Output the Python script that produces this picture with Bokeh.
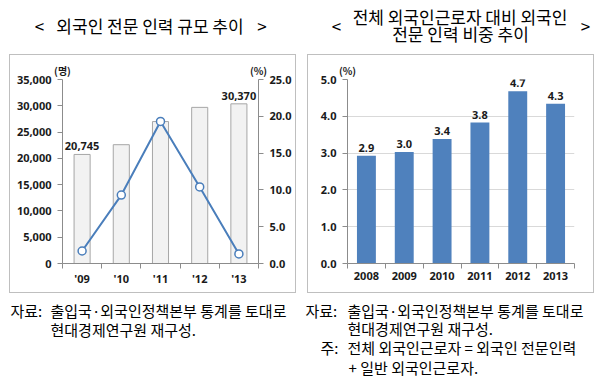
from bokeh.plotting import figure
from bokeh.models import (Range1d, LinearAxis, FixedTicker, SingleIntervalTicker,
                          NumeralTickFormatter, Spacer)
from bokeh.layouts import column, row
from bokeh.embed import file_html
from bokeh.resources import INLINE
from bokeh.core.properties import value

# ---------------- data ----------------
left_years = ["'09", "'10", "'11", "'12", "'13"]
expert_workers = [20745, 22600, 27000, 29700, 30370]      # 명
expert_growth = [1.7, 9.3, 19.3, 10.4, 1.3]               # %
labeled_bars = [0, 4]
left_units = ["(명)", "(%)"]

right_years = ["2008", "2009", "2010", "2011", "2012", "2013"]
expert_share = [2.93, 3.03, 3.38, 3.83, 4.68, 4.34]       # %
right_units = ["(%)"]

left_title = "외국인 전문 인력 규모 추이"
right_title = ["전체 외국인근로자 대비 외국인", "전문 인력 비중 추이"]
left_notes = ["자료:", "출입국·외국인정책본부 통계를 토대로", "현대경제연구원 재구성."]
right_notes = ["자료:", "출입국·외국인정책본부 통계를 토대로", "현대경제연구원 재구성.",
               "주:", "전체 외국인근로자 = 외국인 전문인력", "+ 일반 외국인근로자."]

# ---------------- styles ----------------
FONT_NUM = "Noto Sans"
FONT_KR = "Noto Sans CJK KR"
AXIS_GRAY = "#8c8c8c"
TXT = "#1a1a1a"
BLUE = "#4a7ebb"
BAR_BLUE = "#4f81bd"
BOX = {"outline": "1px solid #bfbfbf"}


def style_axis(ax, tick_out=5):
    ax.axis_line_color = AXIS_GRAY
    ax.major_tick_line_color = AXIS_GRAY
    ax.minor_tick_line_color = AXIS_GRAY
    ax.major_tick_out = tick_out
    ax.major_tick_in = 0
    ax.minor_tick_out = 0
    ax.minor_tick_in = 0
    ax.major_label_text_font = FONT_NUM
    ax.major_label_text_font_style = "bold"
    ax.major_label_text_font_size = "11px"
    ax.major_label_text_color = TXT
    ax.major_label_standoff = 6


def cat_axis(ax, labels, standoff):
    n = len(labels)
    ax.ticker = FixedTicker(ticks=list(range(n)),
                            minor_ticks=[i - 0.5 for i in range(n + 1)])
    ax.major_label_overrides = {i: lab for i, lab in enumerate(labels)}
    style_axis(ax, tick_out=0)
    ax.minor_tick_out = 5
    ax.major_label_standoff = standoff


def unit_axis(p, positions, labels):
    ax = LinearAxis(ticker=FixedTicker(ticks=positions, minor_ticks=[]),
                    major_label_overrides={pos: lab for pos, lab in zip(positions, labels)})
    ax.axis_line_color = None
    ax.major_tick_line_color = None
    ax.minor_tick_line_color = None
    ax.major_tick_out = 0
    ax.major_tick_in = 0
    ax.minor_tick_out = 0
    ax.minor_tick_in = 0
    ax.major_label_standoff = 2
    ax.major_label_text_font = FONT_KR
    ax.major_label_text_font_style = "bold"
    ax.major_label_text_font_size = "10px"
    ax.major_label_text_color = TXT
    p.add_layout(ax, "above")


# ---------------- left chart ----------------
LW, LH = 285, 237
n_l = len(left_years)
xl = list(range(n_l))
left = figure(width=LW, height=LH, x_range=Range1d(-0.5, n_l - 0.5),
              y_range=Range1d(0, 35000), output_backend="svg", toolbar_location=None,
              min_border_left=52, min_border_right=37, min_border_top=20,
              min_border_bottom=26, outline_line_color=None,
              background_fill_color="white", border_fill_color="white", styles=BOX)
left.xgrid.visible = False
left.ygrid.visible = False
left.extra_y_ranges = {"pct": Range1d(0, 25)}
raxis = LinearAxis(y_range_name="pct", ticker=SingleIntervalTicker(interval=5),
                   formatter=NumeralTickFormatter(format="0.0"))
left.add_layout(raxis, "right")
style_axis(raxis)
left.yaxis[0].ticker = SingleIntervalTicker(interval=5000)
left.yaxis[0].formatter = NumeralTickFormatter(format="0,0")
style_axis(left.yaxis[0])
cat_axis(left.xaxis[0], left_years, 2)
unit_axis(left, [-0.5, n_l - 0.5], left_units)

left.vbar(x=xl, top=expert_workers, width=0.41, fill_color="#f2f2f2",
          line_color="#a6a6a6", line_width=1)
left.line(xl, expert_growth, y_range_name="pct", line_color=BLUE, line_width=2)
left.scatter(xl, expert_growth, y_range_name="pct", size=8, fill_color="white",
             line_color=BLUE, line_width=1.5)
left.text(x=[xl[i] for i in labeled_bars], y=[expert_workers[i] for i in labeled_bars],
          text=[f"{expert_workers[i]:,}" for i in labeled_bars],
          text_align="center", text_baseline="bottom", y_offset=-4,
          text_font=value(FONT_NUM), text_font_style="bold", text_font_size="11px",
          text_color=TXT)

# ---------------- right chart ----------------
RW, RH = 285, 237
n_r = len(right_years)
xr = list(range(n_r))
right = figure(width=RW, height=RH, x_range=Range1d(-0.5, n_r - 0.5),
               y_range=Range1d(0, 5), output_backend="svg", toolbar_location=None,
               min_border_left=39, min_border_right=19, min_border_top=24,
               min_border_bottom=29, outline_line_color=None,
               background_fill_color="white", border_fill_color="white", styles=BOX)
right.xgrid.visible = False
right.ygrid.grid_line_color = "#d9d9d9"
right.yaxis[0].ticker = SingleIntervalTicker(interval=1)
right.yaxis[0].formatter = NumeralTickFormatter(format="0.0")
style_axis(right.yaxis[0])
cat_axis(right.xaxis[0], right_years, 3)
unit_axis(right, [-0.5], right_units)
right.vbar(x=xr, top=expert_share, width=0.5, fill_color=BAR_BLUE, line_color=None)
right.text(x=xr, y=expert_share, text=[f"{v:.1f}" for v in expert_share],
           text_align="center", text_baseline="bottom", y_offset=-4,
           text_font=value(FONT_NUM), text_font_style="bold", text_font_size="11px",
           text_color=TXT)

# ---------------- titles ----------------
TW, TH = 600, 54
tfig = figure(width=TW, height=TH, x_range=Range1d(0, TW), y_range=Range1d(TH, 0),
              output_backend="svg", toolbar_location=None, x_axis_type=None,
              y_axis_type=None, min_border=0, outline_line_color=None)
tfig.text(x=[39, 149.5, 261.5, 336, 459.5, 460, 585],
          y=[25, 25, 25, 25, 16, 33, 25],
          text=["<", left_title, ">", "<", right_title[0], right_title[1], ">"],
          text_align="center", text_baseline="middle",
          text_font=value(FONT_KR), text_font_size="17px", text_color="#000000")

# ---------------- footnotes ----------------
FW, FH = 600, 95
ffig = figure(width=FW, height=FH, x_range=Range1d(0, FW), y_range=Range1d(FH, 0),
              output_backend="svg", toolbar_location=None, x_axis_type=None,
              y_axis_type=None, min_border=0, outline_line_color=None)
ffig.text(x=[10, 50, 50], y=[17, 17, 36], text=left_notes,
          text_align="left", text_baseline="middle",
          text_font=value(FONT_KR), text_font_size="15px", text_color="#000000")
ffig.text(x=[305, 347, 347, 320, 347, 348], y=[17, 17, 35, 54, 54, 74], text=right_notes,
          text_align="left", text_baseline="middle",
          text_font=value(FONT_KR), text_font_size="15px", text_color="#000000")

layout = column(
    tfig,
    Spacer(width=TW, height=1),
    row(Spacer(width=10, height=LH), left, Spacer(width=13, height=LH), right,
        Spacer(width=7, height=LH), spacing=0),
    Spacer(width=TW, height=1),
    ffig,
    spacing=0,
)

open("out.html", "w").write(file_html(layout, INLINE))
